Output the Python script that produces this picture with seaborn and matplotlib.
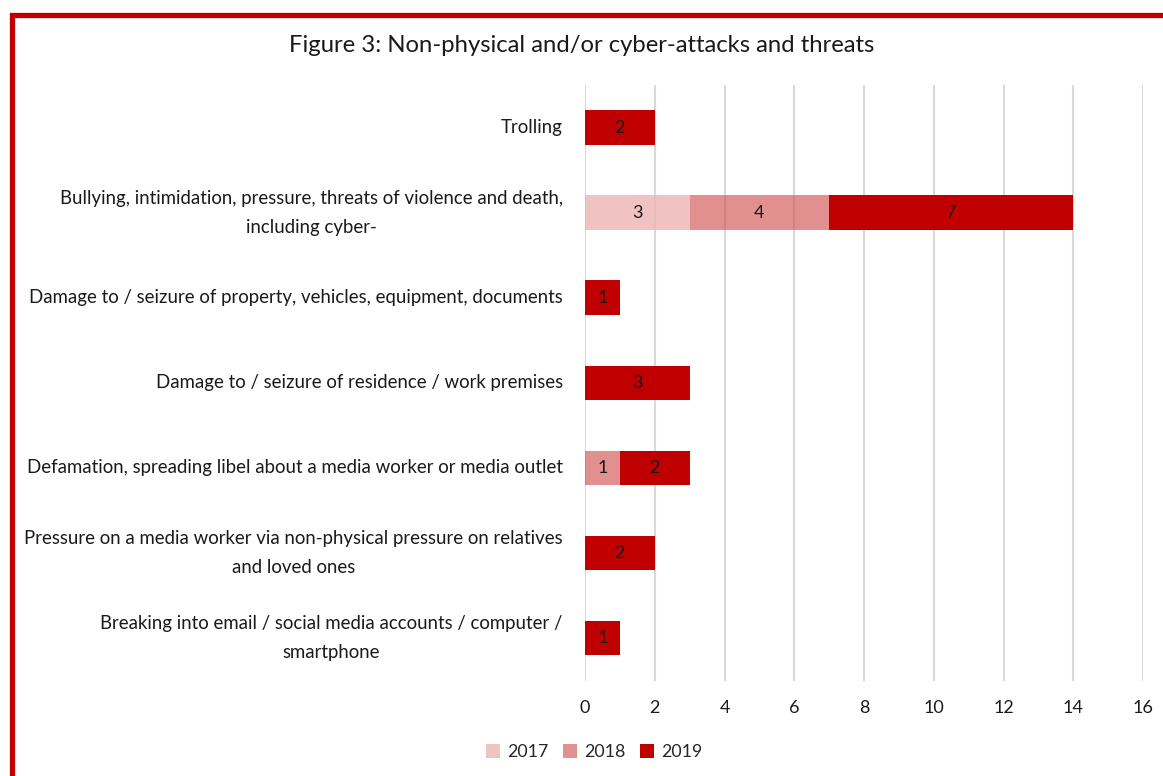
import numpy as np
import pandas as pd
import matplotlib
matplotlib.use("Agg")
import matplotlib.pyplot as plt
from matplotlib.patches import Rectangle, Patch
import seaborn as sns

categories = [
    "Trolling",
    "Bullying, intimidation, pressure, threats of violence and death,\nincluding cyber-",
    "Damage to / seizure of property, vehicles, equipment, documents",
    "Damage to / seizure of residence / work premises",
    "Defamation, spreading libel about a media worker or media outlet",
    "Pressure on a media worker via non-physical pressure on relatives\nand loved ones",
    "Breaking into email / social media accounts / computer /\nsmartphone",
]
years = ["2017", "2018", "2019"]
v2017 = [0, 3, 0, 0, 0, 0, 0]
v2018 = [0, 4, 0, 0, 1, 0, 0]
v2019 = [2, 7, 1, 3, 2, 2, 1]
xticks = [0, 2, 4, 6, 8, 10, 12, 14, 16]

colors = {"2017": (0.93, 0.70, 0.70, 0.8), "2018": (0.82, 0.33, 0.33, 0.65), "2019": "#C00000"}

sns.set_theme(style="white")
plt.rcParams["font.family"] = ["Lato", "DejaVu Sans"]

fig = plt.figure(figsize=(11.63, 7.76), dpi=100)
ax = fig.add_axes([0.503, 0.123, 0.480, 0.767])

series = {"2017": v2017, "2018": v2018, "2019": v2019}
left = np.zeros(len(categories))
for yr in years:
    vals = np.array(series[yr], dtype=float)
    df = pd.DataFrame({"category": categories, "value": vals})
    n_before = len(ax.patches)
    sns.barplot(data=df, x="value", y="category", orient="h", color=colors[yr],
                width=0.41, ax=ax, zorder=3, linewidth=0, saturation=1)
    new = ax.patches[n_before:]
    for p, l, v in zip(new, left, vals):
        p.set_x(l)
        if v > 0:
            ax.text(l + v / 2, p.get_y() + p.get_height() / 2, f"{int(v)}",
                    ha="center", va="center", fontsize=13, color="#1a1a1a", zorder=4)
    left += vals

ax.set_xlim(0, 16)
ax.set_ylim(6.5, -0.5)
ax.set_xticks(xticks)
ax.set_xticklabels([str(t) for t in xticks], fontsize=13, color="#1a1a1a")
ax.tick_params(axis="y", labelsize=13.4, colors="#1a1a1a", pad=16, length=0)
ax.tick_params(axis="x", pad=14, length=0)
for lbl in ax.get_yticklabels():
    lbl.set_horizontalalignment("right")
    lbl.set_verticalalignment("center")
    lbl.set_multialignment("center")
    lbl.set_linespacing(1.9)
ax.set_xlabel("")
ax.set_ylabel("")
ax.grid(axis="x", color="#D9D9D9", linewidth=1.5, zorder=0)
ax.set_axisbelow(True)
for s in ax.spines.values():
    s.set_visible(False)

fig.text(0.5, 1 - 45 / 776, "Figure 3: Non-physical and/or cyber-attacks and threats",
         ha="center", va="center", fontsize=17.2, color="#1a1a1a")

handles = [Patch(facecolor=colors[y], edgecolor="none", label=y) for y in years]
fig.legend(handles=handles, loc="center", bbox_to_anchor=(594 / 1163, 1 - 752 / 776),
           ncol=3, frameon=False, fontsize=12.8, handlelength=0.8, handleheight=0.8,
           columnspacing=0.8, handletextpad=0.4)

border = Rectangle((11.5 / 1163, -0.05), 1.2, 1 - 15 / 776 + 0.05, transform=fig.transFigure,
                   fill=False, edgecolor="#C00000", linewidth=3.8, clip_on=False)
fig.add_artist(border)

fig.savefig("out.png", dpi=100, facecolor="white")
